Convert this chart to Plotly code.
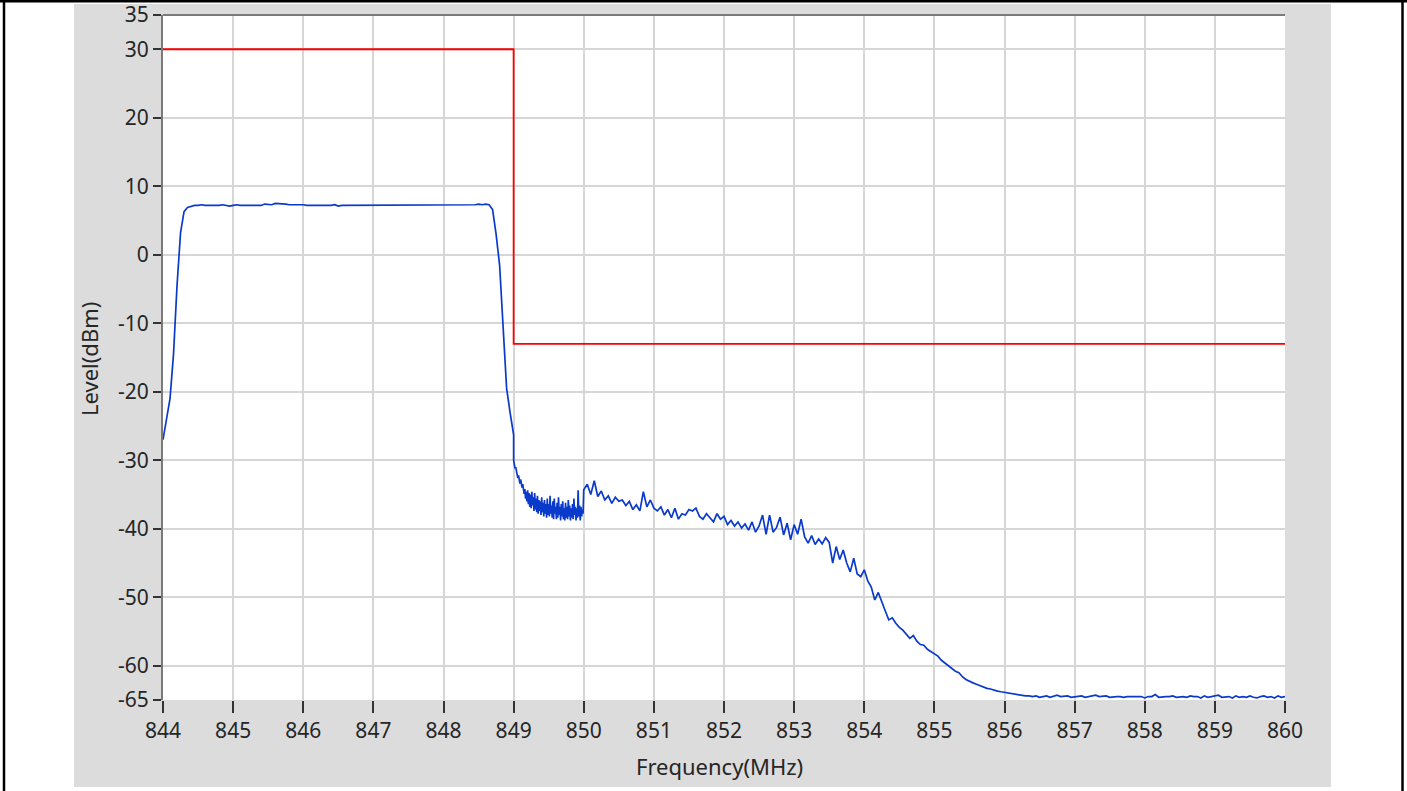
import numpy as np
import plotly.graph_objects as go

# ---- data ----
# Segment A: 844.00 .. 849.00 MHz, 0.05 MHz step
level_a = [
    -27.0, -23.8, -21.0, -14.5, -4.5, 3.2, 6.3, 6.9, 7.1, 7.2,
    7.2, 7.3, 7.2, 7.2, 7.1, 7.2, 7.2, 7.3, 7.2, 7.1,
    7.2, 7.3, 7.2, 7.2, 7.3, 7.2, 7.3, 7.3, 7.2, 7.4,
    7.3, 7.3, 7.5, 7.5, 7.4, 7.4, 7.3, 7.3, 7.4, 7.4,
    7.3, 7.2, 7.2, 7.2, 7.1, 7.2, 7.1, 7.2, 7.2, 7.3,
    7.1, 7.2, 7.2, 7.2, 7.2, 7.2, 7.2, 7.3, 7.2, 7.2,
    7.2, 7.2, 7.2, 7.2, 7.3, 7.2, 7.2, 7.2, 7.3, 7.2,
    7.2, 7.3, 7.2, 7.2, 7.2, 7.2, 7.2, 7.3, 7.2, 7.2,
    7.2, 7.2, 7.2, 7.3, 7.2, 7.2, 7.3, 7.2, 7.3, 7.3,
    7.4, 7.3, 7.4, 7.3, 6.6, 3.0, -1.5, -10.5, -19.5, -23.1,
    -26.3,
]
# Segment B: 849.00 .. 849.99 MHz, 0.01 MHz step
level_b = [
    -30.0, -30.6, -31.2, -31.0, -31.8, -32.0, -32.6, -32.2, -33.0, -33.4,
    -32.8, -33.8, -34.0, -33.5, -34.6, -34.9, -34.2, -35.6, -34.6, -36.0,
    -34.4, -36.4, -34.8, -36.8, -35.0, -37.0, -34.6, -36.6, -35.4, -37.4,
    -34.8, -37.2, -35.6, -37.6, -35.2, -37.8, -35.8, -37.4, -36.0, -38.0,
    -35.4, -37.6, -36.2, -38.2, -35.8, -37.8, -36.4, -38.4, -35.6, -38.0,
    -36.4, -38.2, -35.2, -37.8, -36.6, -38.4, -36.0, -38.6, -35.6, -37.8,
    -36.8, -38.6, -36.2, -38.4, -35.4, -38.0, -36.8, -38.8, -36.4, -38.2,
    -36.0, -38.6, -37.0, -38.8, -36.2, -38.4, -36.8, -38.6, -35.8, -38.2,
    -36.6, -38.8, -37.0, -38.4, -36.4, -38.6, -35.6, -38.0, -36.8, -38.8,
    -37.0, -38.4, -34.4, -38.2, -36.6, -38.8, -36.8, -38.2, -37.2, -37.8,
]
# Segment C: 850.00 .. 860.00 MHz, 0.05 MHz step
level_c = [
    -34.3, -33.5, -35.0, -33.0, -35.3, -34.5, -35.8, -35.2, -36.3, -35.4,
    -36.0, -35.8, -36.6, -36.0, -37.2, -36.5, -37.4, -34.6, -36.8, -35.8,
    -37.0, -37.4, -36.8, -38.0, -37.2, -38.4, -37.0, -38.6, -37.8, -38.0,
    -37.2, -37.4, -37.0, -38.2, -38.6, -37.8, -38.4, -39.0, -37.8, -38.6,
    -38.2, -39.4, -38.8, -39.6, -39.0, -39.9, -39.3, -40.2, -39.0, -40.5,
    -39.6, -38.0, -40.8, -38.0, -40.5, -39.8, -38.3, -40.9, -39.2, -41.6,
    -39.4, -40.8, -38.6, -41.2, -42.1, -41.0, -42.3, -41.5, -42.2, -41.3,
    -42.0, -45.0, -42.6, -44.5, -43.1, -45.0, -46.3, -44.3, -46.6, -47.0,
    -46.0, -47.6, -48.5, -50.4, -49.3, -50.8, -52.0, -53.3, -53.0, -53.8,
    -54.4, -54.8, -55.4, -56.0, -55.6, -56.4, -56.9, -57.0, -57.6, -57.9,
    -58.3, -58.6, -59.2, -59.6, -60.1, -60.4, -60.8, -61.0, -61.6, -62.0,
    -62.3, -62.5, -62.7, -62.9, -63.2, -63.3, -63.4, -63.6, -63.7, -63.8,
    -63.9, -64.0, -64.1, -64.1, -64.3, -64.3, -64.4, -64.4, -64.5, -64.4,
    -64.6, -64.5, -64.4, -64.6, -64.5, -64.3, -64.5, -64.5, -64.4, -64.6,
    -64.5, -64.5, -64.4, -64.6, -64.5, -64.5, -64.3, -64.5, -64.5, -64.4,
    -64.6, -64.5, -64.5, -64.5, -64.6, -64.5, -64.5, -64.5, -64.5, -64.5,
    -64.7, -64.5, -64.5, -64.2, -64.6, -64.5, -64.5, -64.5, -64.4, -64.6,
    -64.5, -64.5, -64.6, -64.4, -64.5, -64.5, -64.7, -64.4, -64.6, -64.5,
    -64.5, -64.3, -64.6, -64.5, -64.5, -64.7, -64.4, -64.6, -64.5, -64.6,
    -64.4, -64.6, -64.7, -64.5, -64.4, -64.6, -64.5, -64.7, -64.4, -64.6,
    -64.5,
]
start_a, step_a = 844.00, 0.05
start_b, step_b = 849.00, 0.01
start_c, step_c = 850.00, 0.05

limit_freq = [844, 849, 849, 860]
limit_level = [30, 30, -13, -13]

x_ticks = list(range(844, 861))
y_ticks = [35, 30, 20, 10, 0, -10, -20, -30, -40, -50, -60, -65]

freq = np.concatenate([
    start_a + step_a * np.arange(len(level_a)),
    start_b + step_b * np.arange(len(level_b)),
    start_c + step_c * np.arange(len(level_c)),
])
level = level_a + level_b + level_c

W, H = 1407, 791
L, R, T, B = 163, 1285, 15, 700  # plot area in pixels
pw, ph = R - L, B - T


def px(x):
    return (x - L) / pw


def py(y):
    return (B - y) / ph


fig = go.Figure()
fig.add_trace(go.Scatter(x=limit_freq, y=limit_level, mode="lines",
                         line=dict(color="#FF0000", width=1.8), showlegend=False))
fig.add_trace(go.Scatter(x=freq, y=level, mode="lines",
                         line=dict(color="#0A3ACC", width=1.7), showlegend=False))

font = "Noto Sans, Open Sans, sans-serif"
txt = "#262626"
fig.update_layout(
    width=W, height=H,
    margin=dict(l=L, r=W - R, t=T, b=H - B, pad=0, autoexpand=False),
    paper_bgcolor="white", plot_bgcolor="white",
    font=dict(family=font, size=21, color=txt),
    showlegend=False,
    xaxis=dict(range=[844, 860], tickvals=x_ticks, ticktext=[str(v) for v in x_ticks],
               automargin=False,
               showgrid=True, gridcolor="#D6D6D6", gridwidth=2, zeroline=False,
               showline=False, ticks="outside", ticklen=12, tickwidth=2, tickcolor="#333333",
               tickfont=dict(size=21, color=txt)),
    yaxis=dict(range=[-65, 35], tickvals=y_ticks, ticktext=[str(v) for v in y_ticks],
               automargin=False,
               showgrid=True, gridcolor="#D6D6D6", gridwidth=2, zeroline=False,
               showline=True, linecolor="#7A7A7A", linewidth=2,
               ticks="outside", ticklen=8, tickwidth=2, tickcolor="#333333",
               tickfont=dict(size=21, color=txt)),
    shapes=[
        dict(type="rect", xref="paper", yref="paper", layer="below",
             x0=px(74), x1=px(1331), y0=py(787), y1=py(4),
             fillcolor="#DCDCDC", line=dict(width=0)),
        dict(type="rect", xref="paper", yref="paper", layer="below",
             x0=0, x1=1, y0=0, y1=1,
             fillcolor="white", line=dict(width=0)),
        dict(type="line", xref="paper", yref="paper",
             x0=0, x1=1, y0=1, y1=1, line=dict(color="#7A7A7A", width=2)),
        dict(type="line", xref="paper", yref="paper",
             x0=px(4), x1=px(4), y0=py(0), y1=py(791), line=dict(color="black", width=2.5)),
        dict(type="line", xref="paper", yref="paper",
             x0=px(1402.5), x1=px(1402.5), y0=py(0), y1=py(791), line=dict(color="black", width=2.5)),
        dict(type="line", xref="paper", yref="paper",
             x0=px(0), x1=px(1407), y0=py(1.2), y1=py(1.2), line=dict(color="black", width=2.5)),
    ],
    annotations=[
        dict(text="Frequency(MHz)", xref="paper", yref="paper", x=px(719), y=py(766),
             showarrow=False, xanchor="center", yanchor="middle",
             font=dict(size=22, color=txt)),
        dict(text="Level(dBm)", xref="paper", yref="paper", x=px(89), y=py(359),
             showarrow=False, xanchor="center", yanchor="middle", textangle=-90,
             font=dict(size=22, color=txt)),
    ],
)

fig.write_html(
    "out.html",
    config={"displayModeBar": False},
    post_script=(
        "document.body.style.margin='0';"
        "document.body.style.overflow='hidden';"
        "var g=document.getElementById('{plot_id}');"
        "g.style.position='absolute';g.style.left='0px';g.style.top='0px';"
    ),
)
